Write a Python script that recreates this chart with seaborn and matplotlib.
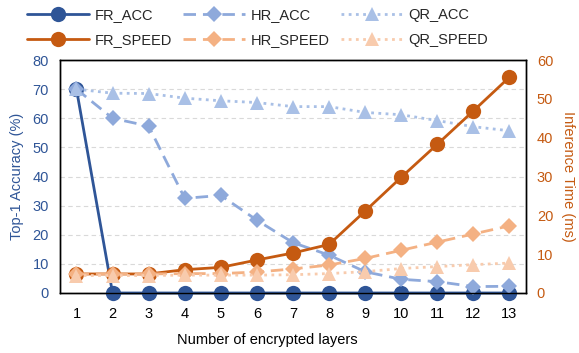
import matplotlib
matplotlib.use("Agg")
import matplotlib.pyplot as plt
import seaborn as sns
import pandas as pd

layers = list(range(1, 14))
fr_acc = [70, 0, 0, 0, 0, 0, 0, 0, 0, 0, 0, 0, 0]
hr_acc = [70, 60, 57.3, 32.5, 33.5, 25, 17.3, 13, 7.3, 4.7, 3.9, 2.2, 2.3]
qr_acc = [70, 68.6, 68.5, 66.9, 66, 65.4, 64, 64, 62, 61.2, 59.2, 57.1, 55.7]
fr_speed = [4.9, 4.9, 4.9, 6.0, 6.6, 8.5, 10.3, 12.5, 21.1, 29.8, 38.3, 46.9, 55.6]
hr_speed = [4.9, 4.9, 4.9, 5.0, 5.0, 5.4, 6.2, 7.2, 8.9, 11.0, 13.1, 15.2, 17.3]
qr_speed = [4.5, 4.5, 4.5, 4.6, 4.6, 4.6, 4.7, 5.0, 5.5, 6.3, 6.8, 7.3, 7.7]

sns.set_style("white")
plt.rcParams['font.family'] = ['Liberation Sans', 'DejaVu Sans']

c_fr_acc = "#2F5597"
c_hr_acc = "#8EA9DB"
c_qr_acc = "#A9C0E6"
c_fr_sp = "#C55A11"
c_hr_sp = "#F4B183"
c_qr_sp = "#F8CBAD"
blue_txt = "#2F5597"
orange_txt = "#C55A11"

fig = plt.figure(figsize=(5.79, 3.53), dpi=100)
ax = fig.add_axes([0.104, 0.170, 0.804, 0.660])
ax2 = ax.twinx()

df = pd.DataFrame({"layers": layers, "fr_acc": fr_acc, "hr_acc": hr_acc, "qr_acc": qr_acc,
                   "fr_speed": fr_speed, "hr_speed": hr_speed, "qr_speed": qr_speed})

lw = 2.0
specs_left = [
    ("fr_acc", "FR_ACC", c_fr_acc, "-", "o", 11),
    ("hr_acc", "HR_ACC", c_hr_acc, (0, (4.5, 2.5)), "D", 8.5),
    ("qr_acc", "QR_ACC", c_qr_acc, (0, (1, 1.6)), "^", 10),
]
specs_right = [
    ("fr_speed", "FR_SPEED", c_fr_sp, "-", "o", 11),
    ("hr_speed", "HR_SPEED", c_hr_sp, (0, (4.5, 2.5)), "D", 8.5),
    ("qr_speed", "QR_SPEED", c_qr_sp, (0, (1, 1.6)), "^", 10),
]
handles = {}
for axis, specs in ((ax, specs_left), (ax2, specs_right)):
    for col, lab, c, ls, mk, ms in specs:
        sns.lineplot(data=df, x="layers", y=col, ax=axis, color=c, linestyle=ls, marker=mk,
                     markersize=ms, linewidth=lw, markeredgewidth=0, label=lab, legend=False,
                     clip_on=False, zorder=3)
        handles[lab] = axis.lines[-1]

ax.set_xlim(0.55, 13.45)
ax.set_ylim(0, 80)
ax2.set_ylim(0, 60)
ax.set_xticks(layers)
ax.set_xticklabels([str(v) for v in layers])
ax.set_yticks(range(0, 81, 10))
ax2.set_yticks(range(0, 61, 10))
ax.yaxis.grid(True, linestyle=(0, (4, 3)), color="#D9D9D9", linewidth=0.8)
ax.set_axisbelow(True)

for sp in list(ax.spines.values()) + list(ax2.spines.values()):
    sp.set_color("black")
    sp.set_linewidth(1.0)

ax.tick_params(axis="x", labelsize=10.5, colors="black", length=0, pad=10)
ax.tick_params(axis="y", labelsize=10.5, labelcolor=blue_txt, length=0, pad=8)
ax2.tick_params(axis="y", labelsize=10.5, labelcolor=orange_txt, length=0, pad=8)

ax.set_xlabel("Number of encrypted layers", fontsize=10.5, color="black")
ax.xaxis.set_label_coords(0.445, -0.17)
ax.set_ylabel("Top-1 Accuracy (%)", fontsize=10.5, color=blue_txt, labelpad=6)
ax2.set_ylabel("Inference Time (ms)", fontsize=10.5, color=orange_txt, rotation=270, labelpad=16)

order = ["FR_ACC", "FR_SPEED", "HR_ACC", "HR_SPEED", "QR_ACC", "QR_SPEED"]
fig.legend([handles[k] for k in order], order, loc="upper center", bbox_to_anchor=(0.445, 1.015),
           ncol=3, frameon=False, fontsize=10.5, handlelength=4.2, columnspacing=0.8,
           handletextpad=0.4, labelspacing=0.75)

fig.savefig("out.png", dpi=100)
